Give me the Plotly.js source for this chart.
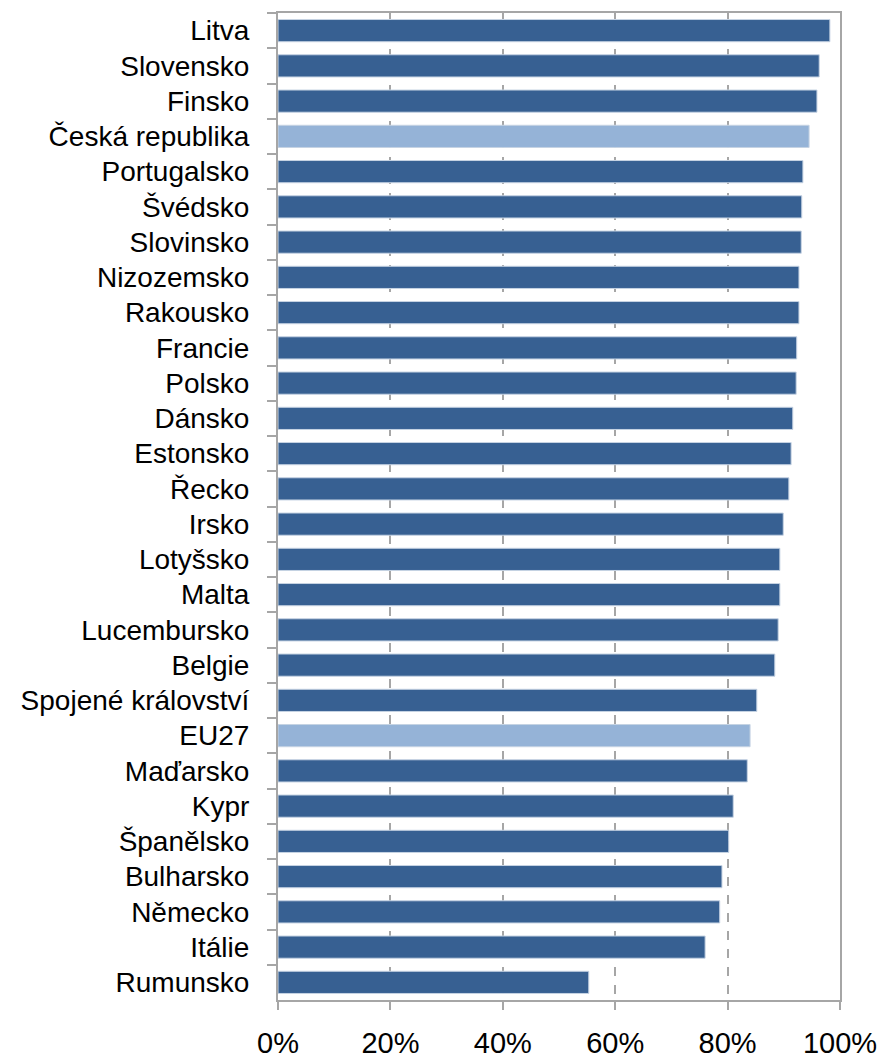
<!DOCTYPE html>
<html><head><meta charset="utf-8">
<script src="https://cdn.plot.ly/plotly-3.0.1.min.js"></script>
<style>body{margin:0;background:#fff}#c{width:881px;height:1058px}</style>
</head><body><div id="c"></div>
<script>
const countries = ["Litva","Slovensko","Finsko","Česká republika","Portugalsko","Švédsko","Slovinsko","Nizozemsko","Rakousko","Francie","Polsko","Dánsko","Estonsko","Řecko","Irsko","Lotyšsko","Malta","Lucembursko","Belgie","Spojené království","EU27","Maďarsko","Kypr","Španělsko","Bulharsko","Německo","Itálie","Rumunsko"];
const values = [98.2,96.3,95.9,94.5,93.4,93.2,93.1,92.7,92.7,92.3,92.2,91.6,91.3,90.9,89.9,89.3,89.3,89.0,88.4,85.2,84.0,83.5,81.0,80.2,79.0,78.6,76.0,55.3];
const highlight = ["Česká republika","EU27"];
const xTicks = [0,20,40,60,80,100];
const xTickLabels = ["0%","20%","40%","60%","80%","100%"];

const colors = countries.map(c => highlight.includes(c) ? "#95b3d7" : "#376092");

Plotly.newPlot("c", [{
  type: "bar", orientation: "h",
  x: values, y: countries,
  marker: {color: colors, line: {color: "#c6d3e3", width: 1}},
  hoverinfo: "x+y"
}], {
  width: 881, height: 1058,
  margin: {l: 278, r: 41, t: 13, b: 58},
  paper_bgcolor: "#fff", plot_bgcolor: "#fff",
  bargap: 0.37,
  font: {family: "Liberation Sans, Arial, sans-serif", size: 28, color: "#000"},
  xaxis: {
    range: [0, 100], tickvals: xTicks, ticktext: xTickLabels,
    showgrid: true, gridcolor: "#a6a6a6", griddash: "dash", gridwidth: 2,
    zeroline: false, showline: true, linecolor: "#a6a6a6", linewidth: 2, mirror: true,
    ticks: "outside", ticklen: 8, tickcolor: "#a6a6a6", tickwidth: 2,
    tickfont: {size: 29}, ticklabelstandoff: 8
  },
  yaxis: {
    autorange: "reversed", type: "category",
    showline: true, linecolor: "#a6a6a6", linewidth: 2, mirror: true,
    ticks: "outside", tickson: "boundaries", ticklen: 9, tickcolor: "#a6a6a6", tickwidth: 2,
    showgrid: false, tickfont: {size: 28}, ticklabelstandoff: 21
  },
  showlegend: false
}, {displayModeBar: false});
</script></body></html>
